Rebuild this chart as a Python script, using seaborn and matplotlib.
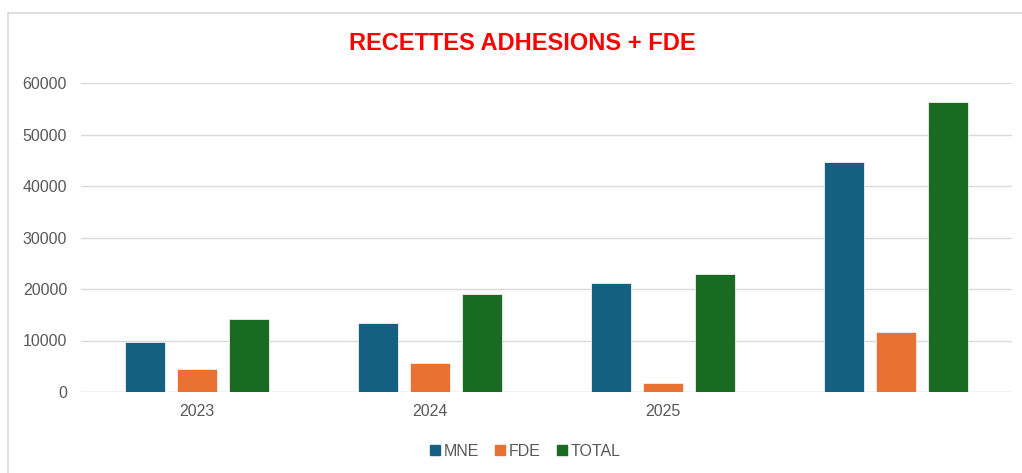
import matplotlib
matplotlib.use("Agg")
import matplotlib.pyplot as plt
import matplotlib.lines as mlines
import pandas as pd
import seaborn as sns

years = ["2023", "2024", "2025", ""]
mne = [9750, 13400, 21200, 44650]
fde = [4450, 5600, 1750, 11700]
total = [14150, 19000, 22900, 56300]
series = ["MNE", "FDE", "TOTAL"]
colors = ["#156082", "#E97132", "#196B24"]

df = pd.DataFrame({
    "annee": years * 3,
    "serie": ["MNE"] * 4 + ["FDE"] * 4 + ["TOTAL"] * 4,
    "valeur": mne + fde + total,
})

sns.set_style("white")
plt.rcParams["font.family"] = ["Liberation Sans", "DejaVu Sans"]

fig = plt.figure(figsize=(10.22, 4.73), dpi=100)
ax = fig.add_axes([81 / 1022, 1 - 392 / 473, 931 / 1022, 309 / 473])

sns.barplot(data=df, x="annee", y="valeur", hue="serie", hue_order=series,
            palette=colors, saturation=1, width=0.67, gap=0.23, ax=ax,
            edgecolor="#f0f0f0", linewidth=0.6, legend=False)

ax.set_ylim(0, 60000)
ax.set_yticks(range(0, 60001, 10000))
ax.yaxis.grid(True, color="#D9D9D9", linewidth=1)
ax.set_axisbelow(True)
for s in ax.spines.values():
    s.set_visible(False)
ax.axhline(0, color="#D9D9D9", linewidth=1, zorder=0)
ax.tick_params(axis="both", length=0, labelsize=11.5, colors="#595959", pad=9)
ax.tick_params(axis="y", pad=10)
ax.set_xlabel("")
ax.set_ylabel("")

fig.text(522 / 1022, 1 - 44 / 473, "RECETTES ADHESIONS + FDE", color="#FF0000",
         fontsize=17, fontweight="bold", ha="center", va="center")

handles = [mlines.Line2D([], [], marker="s", linestyle="", color=c, markersize=6.5) for c in colors]
fig.legend(handles, series, loc="center", bbox_to_anchor=(524 / 1022, 1 - 451 / 473),
           ncol=3, frameon=False, fontsize=11.5, handletextpad=0.05, columnspacing=0.8,
           handlelength=1.0, labelcolor="#595959")

# cadre du graphique
fig.add_artist(mlines.Line2D([8 / 1022, 8 / 1022], [0, 1 - 13 / 473], color="#D9D9D9", linewidth=1.2))
fig.add_artist(mlines.Line2D([8 / 1022, 1], [1 - 13 / 473, 1 - 13 / 473], color="#D9D9D9", linewidth=1.2))

fig.savefig("out.png", dpi=100)
